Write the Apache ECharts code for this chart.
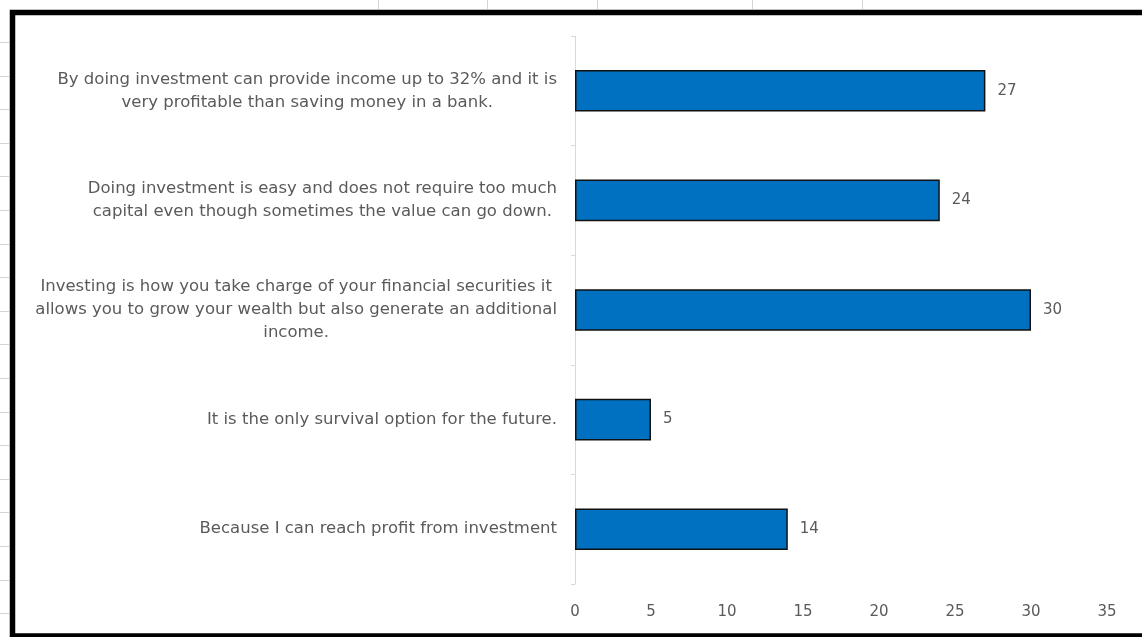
<!DOCTYPE html>
<html>
<head>
<meta charset="utf-8">
<script src="https://cdn.jsdelivr.net/npm/echarts@6/dist/echarts.min.js"></script>
<style>
  html, body { margin: 0; padding: 0; background: #ffffff; }
  #chart { width: 1142px; height: 637px; }
</style>
</head>
<body>
<div id="chart"></div>
<script>
// Survey answers: reasons for investing (top to bottom)
const reasons = [
  'By doing investment can provide income up to 32% and it is\nvery profitable than saving money in a bank.',
  'Doing investment is easy and does not require too much\ncapital even though sometimes the value can go down.',
  'Investing is how you take charge of your financial securities it\nallows you to grow your wealth but also generate an additional\nincome.',
  'It is the only survival option for the future.',
  'Because I can reach profit from investment'
];
const respondents = [27, 24, 30, 5, 14];
const countTicks = [0, 5, 10, 15, 20, 25, 30, 35];

const textGray = '#5a5a5a';
const font = 'DejaVu Sans';

// Worksheet cell lines peeking out around the chart frame
const sheetLines = [];
[378.5, 487.5, 597.5, 752.5, 862.5].forEach(x => {
  sheetLines.push({ type: 'line', silent: true,
    shape: { x1: x, y1: 0, x2: x, y2: 9 },
    style: { stroke: '#d4d4d4', lineWidth: 1 } });
});
for (let k = 0; k < 18; k++) {
  const y = Math.round(42 + 33.6 * k) + 0.5;
  sheetLines.push({ type: 'line', silent: true,
    shape: { x1: 0, y1: y, x2: 9, y2: y },
    style: { stroke: '#d4d4d4', lineWidth: 1 } });
}

const chart = echarts.init(document.getElementById('chart'), null, { renderer: 'canvas' });

chart.setOption({
  animation: false,
  backgroundColor: '#ffffff',
  textStyle: { fontFamily: font },
  grid: { left: 575, right: 35, top: 36, bottom: 53, containLabel: false },
  xAxis: {
    type: 'value',
    min: countTicks[0],
    max: countTicks[countTicks.length - 1],
    interval: countTicks[1] - countTicks[0],
    axisLine: { show: false },
    axisTick: { show: false },
    splitLine: { show: false },
    axisLabel: { color: textGray, fontSize: 15, fontFamily: font, margin: 21 }
  },
  yAxis: {
    type: 'category',
    inverse: true,
    data: reasons,
    axisLine: { show: true, lineStyle: { color: '#d9d9d9', width: 1 } },
    axisTick: { show: true, length: 4, alignWithLabel: false, lineStyle: { color: '#d9d9d9' } },
    axisLabel: {
      margin: 18,
      color: textGray,
      fontSize: 16.5,
      fontFamily: font,
      align: 'right',
      lineHeight: 23,
      // each line centred within the label block
      formatter: v => v.split('\n').map(s => '{c|' + s + '}').join('\n'),
      rich: { c: { align: 'center', color: textGray, fontSize: 16.5, fontFamily: font, lineHeight: 23 } }
    }
  },
  series: [{
    type: 'bar',
    data: respondents,
    barCategoryGap: '62%',
    itemStyle: { color: '#0070c0', borderColor: '#111111', borderWidth: 1.5 },
    label: {
      show: true,
      position: 'right',
      distance: 12,
      color: textGray,
      fontSize: 15,
      fontFamily: font
    }
  }],
  graphic: sheetLines.concat([
    { type: 'rect', silent: true, z: 100,
      shape: { x: 12.5, y: 12.5, width: 1200, height: 623.5 },
      style: { fill: null, stroke: '#000000', lineWidth: 5.5 } }
  ])
});
</script>
</body>
</html>
